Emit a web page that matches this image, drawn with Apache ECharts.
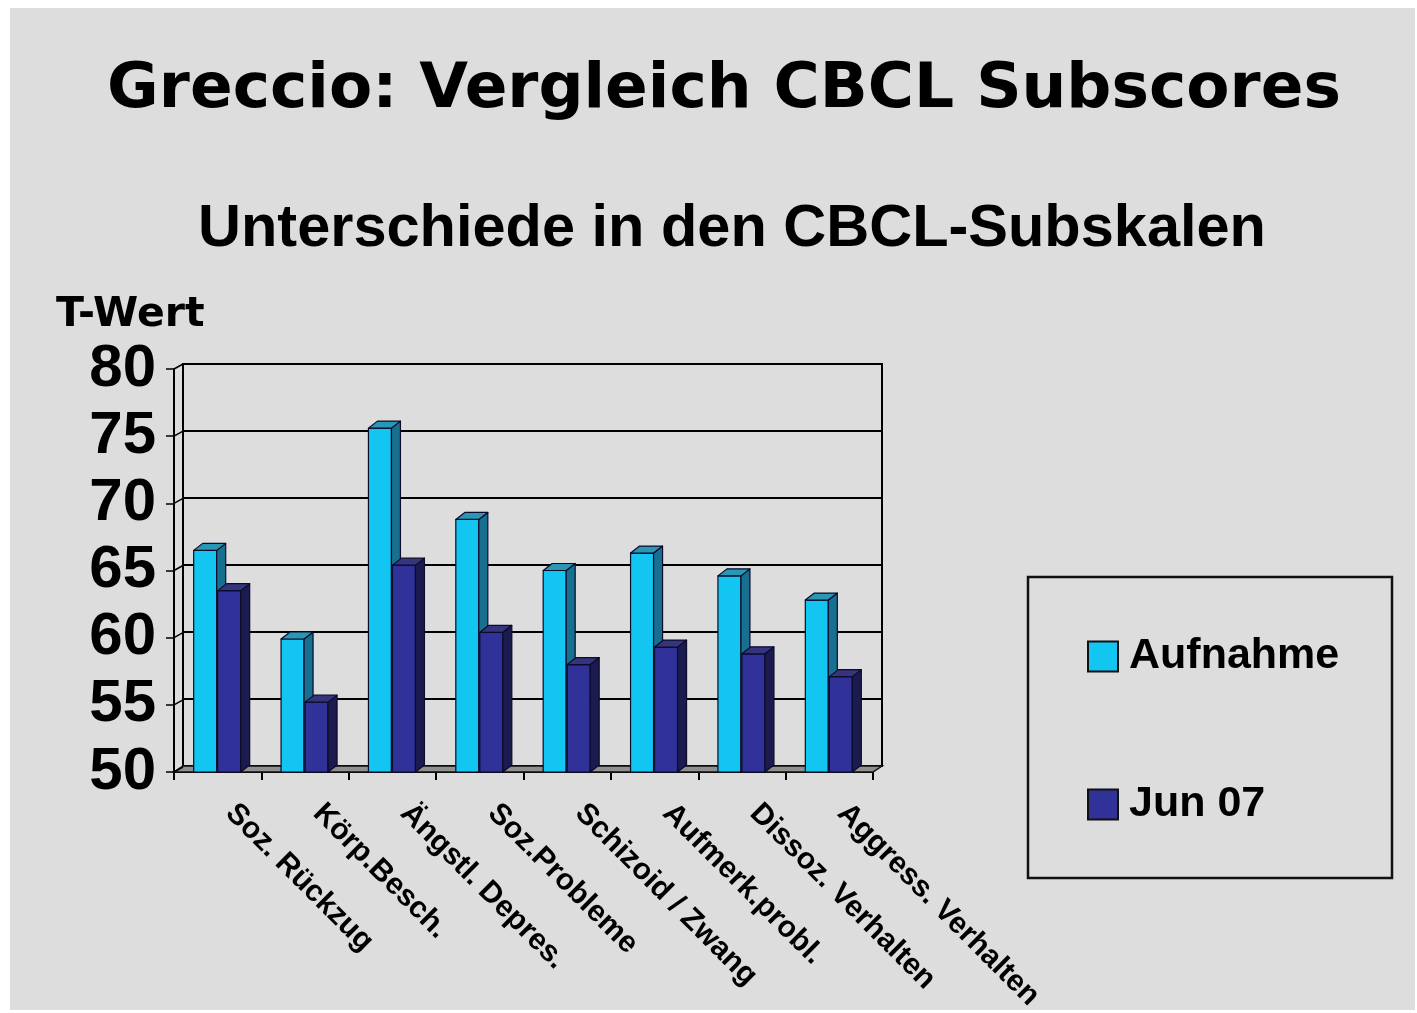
<!DOCTYPE html>
<html>
<head>
<meta charset="utf-8">
<script src="https://cdn.jsdelivr.net/npm/echarts@6/dist/echarts.min.js"></script>
<style>
  html, body { margin: 0; padding: 0; background: #ffffff; }
  #main { width: 1417px; height: 1013px; }
</style>
</head>
<body>
<div id="main"></div>
<script>
// data
let categories = ['Soz. Rückzug', 'Körp.Besch.', 'Ängstl. Depres.', 'Soz.Probleme',
                  'Schizoid / Zwang', 'Aufmerk.probl.', 'Dissoz. Verhalten', 'Aggress. Verhalten'];
let aufnahme = [66.5, 59.9, 75.6, 68.8, 65.0, 66.3, 64.6, 62.8];
let jun07 = [63.5, 55.2, 65.4, 60.4, 58.0, 59.3, 58.8, 57.1];
let yTicks = [50, 55, 60, 65, 70, 75, 80];

let DX = 9, DY = -7;   // depth of the 3d bars
let BW = 23;           // front width of a bar

function barItem(shift, front, side, topc) {
    return function (params, api) {
        let base = api.coord([api.value(0), 50]);
        let top = api.coord([api.value(0), api.value(1)]);
        let x0 = base[0] + shift;
        let st = { stroke: '#0b0b2a', lineWidth: 1.2, lineJoin: 'round' };
        return {
            type: 'group',
            children: [
                { type: 'rect', shape: { x: x0, y: top[1], width: BW, height: base[1] - top[1] },
                  style: Object.assign({ fill: front }, st) },
                { type: 'polygon', shape: { points: [[x0 + BW, top[1]], [x0 + BW + DX, top[1] + DY],
                        [x0 + BW + DX, base[1] + DY], [x0 + BW, base[1]]] },
                  style: Object.assign({ fill: side }, st) },
                { type: 'polygon', shape: { points: [[x0, top[1]], [x0 + DX, top[1] + DY],
                        [x0 + BW + DX, top[1] + DY], [x0 + BW, top[1]]] },
                  style: Object.assign({ fill: topc }, st) }
            ]
        };
    };
}

function floorItem(params, api) {
    let cs = params.coordSys;
    let kids = [{
        type: 'polygon',
        shape: { points: [[cs.x, cs.y + cs.height], [cs.x + cs.width, cs.y + cs.height],
                          [cs.x + cs.width + 9, cs.y + cs.height - 6], [cs.x + 9, cs.y + cs.height - 6]] },
        style: { fill: '#8f8f8f', stroke: '#111', lineWidth: 1.5 }
    }];
    yTicks.forEach(function (t) {
        let p = api.coord([0, t]);
        kids.push({ type: 'line', shape: { x1: cs.x, y1: p[1], x2: cs.x + 9, y2: p[1] - 5 },
                    style: { stroke: '#000', lineWidth: 1.5 } });
    });
    return { type: 'group', children: kids };
}

let chart = echarts.init(document.getElementById('main'));
let option = {
    backgroundColor: '#ffffff',
    animation: false,
    graphic: [
        { type: 'rect', z: -10, shape: { x: 10, y: 8, width: 1405, height: 1002 }, style: { fill: '#dddddd' } },
        { type: 'rect', z: 5, shape: { x: 1028, y: 577, width: 364, height: 301 },
          style: { fill: 'none', stroke: '#111', lineWidth: 2.5 } }
    ],
    title: [{
        text: 'Greccio: Vergleich CBCL Subscores',
        left: 719, top: 54, textAlign: 'center',
        textStyle: { fontFamily: 'DejaVu Sans', fontWeight: 'bold', fontSize: 63, color: '#000' }
    }, {
        text: 'Unterschiede in den CBCL-Subskalen',
        left: 727, top: 195, textAlign: 'center',
        textStyle: { fontFamily: 'Liberation Sans', fontWeight: 'bold', fontSize: 59.5, color: '#000' }
    }, {
        text: 'T-Wert',
        left: 51, top: 290,
        textStyle: { fontFamily: 'DejaVu Sans', fontWeight: 'bold', fontSize: 41, color: '#000' }
    }],
    legend: {
        orient: 'vertical',
        left: 1082, top: 630,
        itemWidth: 30, itemHeight: 30, itemGap: 105,
        icon: 'rect',
        textStyle: { fontFamily: 'Liberation Sans', fontWeight: 'bold', fontSize: 43, color: '#000',
                     padding: [0, 0, 0, 6] },
        data: [
            { name: 'Aufnahme', itemStyle: { color: '#13c6f2', borderColor: '#111', borderWidth: 2 } },
            { name: 'Jun 07', itemStyle: { color: '#31319a', borderColor: '#111', borderWidth: 2 } }
        ]
    },
    grid: [
        { left: 174, top: 369, width: 699, height: 403, outerBoundsMode: 'none' },
        { left: 183, top: 364, width: 699, height: 402, outerBoundsMode: 'none',
          show: true, borderColor: '#000', borderWidth: 2, backgroundColor: 'transparent' }
    ],
    xAxis: [{
        type: 'category', gridIndex: 0, data: categories,
        axisLine: { show: true, lineStyle: { color: '#000', width: 2 } },
        axisTick: { show: true, length: 8, lineStyle: { color: '#000', width: 2 } },
        axisLabel: {
            rotate: -45, margin: 24, interval: 0, color: '#000', padding: [0, 0, 0, 18],
            fontFamily: 'Liberation Sans', fontWeight: 'bold', fontSize: 30
        }
    }, {
        type: 'category', gridIndex: 1, data: categories, show: false
    }],
    yAxis: [{
        type: 'value', gridIndex: 0, min: 50, max: 80, interval: 5,
        axisLine: { show: true, lineStyle: { color: '#000', width: 2 } },
        axisTick: { show: true, length: 8, lineStyle: { color: '#000', width: 1.5 } },
        splitLine: { show: false },
        axisLabel: {
            margin: 18, color: '#000',
            fontFamily: 'Liberation Sans', fontWeight: 'bold', fontSize: 60
        }
    }, {
        type: 'value', gridIndex: 1, min: 50, max: 80, interval: 5,
        axisLine: { show: false }, axisTick: { show: false }, axisLabel: { show: false },
        splitLine: { show: true, lineStyle: { color: '#000', width: 2 } }
    }],
    series: [{
        type: 'custom', name: 'floor', xAxisIndex: 0, yAxisIndex: 0, z: 1,
        renderItem: floorItem, data: [[0, 50]], silent: true, tooltip: { show: false }
    }, {
        type: 'custom', name: 'Aufnahme', xAxisIndex: 0, yAxisIndex: 0, z: 2,
        itemStyle: { color: '#13c6f2' },
        renderItem: barItem(-24, '#13c6f2', '#17708f', '#2a97b4'),
        data: categories.map(function (c, i) { return [i, aufnahme[i]]; })
    }, {
        type: 'custom', name: 'Jun 07', xAxisIndex: 0, yAxisIndex: 0, z: 3,
        itemStyle: { color: '#31319a' },
        renderItem: barItem(0, '#31319a', '#1b1b50', '#35357f'),
        data: categories.map(function (c, i) { return [i, jun07[i]]; })
    }]
};
chart.setOption(option);
</script>
</body>
</html>
